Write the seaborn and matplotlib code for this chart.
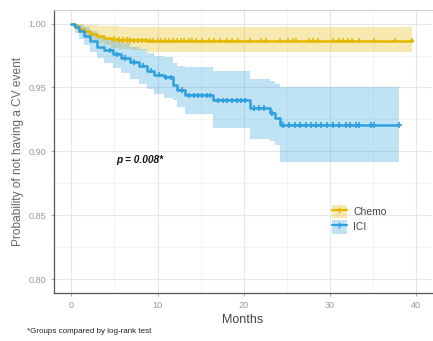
import matplotlib
matplotlib.use('Agg')
import matplotlib.pyplot as plt
import numpy as np
import pandas as pd
import seaborn as sns
from matplotlib.lines import Line2D
from matplotlib.patches import Patch

# Kaplan-Meier curves
chemo_time = [0, 0.3, 0.8, 1.5, 2.2, 3.0, 3.8, 4.6, 5.5, 7.0, 8.8, 39.5]
chemo_surv = [1.0, 0.998, 0.996, 0.994, 0.992, 0.990, 0.989, 0.988, 0.9872, 0.9869, 0.9867, 0.9867]
chemo_lower = [1.0, 0.996, 0.993, 0.990, 0.987, 0.985, 0.983, 0.981, 0.980, 0.979, 0.9776, 0.9776]
chemo_upper = [1.0, 1.0, 0.9995, 0.999, 0.9985, 0.998, 0.998, 0.9978, 0.9977, 0.9977, 0.9977, 0.9977]
chemo_censor = [5.0, 5.5, 6.0, 6.4, 6.8, 7.3, 7.7, 8.2, 8.6, 9.1, 9.5, 10.0, 10.4, 10.9,
                11.3, 11.8, 12.2, 12.7, 13.1, 13.6, 14.0, 14.5, 15.2, 16.0, 16.5, 17.3,
                18.0, 18.6, 19.3, 20.7, 22.0, 22.6, 24.2, 25.1, 25.7, 26.1, 27.6, 28.0,
                28.6, 30.3, 31.1, 31.5, 32.1, 32.6, 33.4, 35.1, 37.5, 39.5]

ici_time = [0, 0.4, 0.9, 1.5, 2.2, 3.0, 3.8, 4.8, 5.8, 6.8, 7.8, 8.8, 9.6, 10.8, 11.8,
            12.3, 13.2, 16.4, 20.7, 23.0, 23.6, 24.2, 38.0]
ici_surv = [1.0, 0.997, 0.994, 0.990, 0.986, 0.982, 0.979, 0.976, 0.973, 0.970, 0.967,
            0.963, 0.960, 0.958, 0.952, 0.948, 0.944, 0.940, 0.934, 0.930, 0.926, 0.9207, 0.9207]
ici_lower = [1.0, 0.993, 0.988, 0.983, 0.978, 0.973, 0.969, 0.965, 0.961, 0.957, 0.953,
             0.949, 0.945, 0.942, 0.940, 0.935, 0.929, 0.918, 0.910, 0.908, 0.905, 0.892, 0.892]
ici_upper = [1.0, 1.0, 0.999, 0.997, 0.994, 0.991, 0.989, 0.987, 0.985, 0.982, 0.980,
             0.977, 0.975, 0.974, 0.969, 0.967, 0.966, 0.963, 0.957, 0.955, 0.953, 0.950, 0.950]
ici_censor = [4.5, 5.3, 6.2, 7.3, 8.3, 9.2, 10.2, 11.0, 11.5, 12.8, 13.6, 14.2, 14.7, 15.2,
              15.7, 16.1, 17.0, 17.6, 18.1, 18.6, 19.2, 19.7, 20.2, 21.2, 21.8, 22.4, 23.3,
              24.5, 25.3, 25.9, 26.5, 27.2, 27.8, 28.4, 29.0, 29.6, 30.3, 31.1, 31.9, 32.3,
              33.0, 33.4, 34.8, 35.1, 38.0]

groups = ['Chemo', 'ICI']
colors = {'Chemo': '#E7B800', 'ICI': '#2E9FDF'}

curves = {
    'Chemo': (chemo_time, chemo_surv, chemo_lower, chemo_upper, chemo_censor),
    'ICI': (ici_time, ici_surv, ici_lower, ici_upper, ici_censor),
}

sns.set_theme(style='whitegrid')
plt.rcParams['font.family'] = ['Liberation Sans', 'DejaVu Sans']

fig = plt.figure(figsize=(4.33, 3.41), dpi=100)
ax = fig.add_axes([0.125, 0.141, 0.872, 0.830])

line_df, cens_df = [], []
for g in groups:
    t, s, lo, hi, cens = curves[g]
    line_df.append(pd.DataFrame({'time': t, 'surv': s, 'group': g}))
    # censor marks sit on the step function
    idx = np.searchsorted(t, cens, side='right') - 1
    cens_df.append(pd.DataFrame({'time': cens, 'surv': np.array(s)[idx], 'group': g}))
    ax.fill_between(t, lo, hi, step='post', color=colors[g], alpha=0.3, linewidth=0)
line_df = pd.concat(line_df)
cens_df = pd.concat(cens_df)

sns.lineplot(data=line_df, x='time', y='surv', hue='group', palette=colors,
             drawstyle='steps-post', linewidth=1.8, legend=False, ax=ax, estimator=None)
sns.scatterplot(data=cens_df, x='time', y='surv', hue='group', palette=colors,
                marker='+', s=14, linewidth=1.2, legend=False, ax=ax)

ax.set_xlim(-2, 41.8)
ax.set_ylim(0.7893, 1.0107)
ax.set_xticks([0, 10, 20, 30, 40])
ax.set_yticks([0.80, 0.85, 0.90, 0.95, 1.00])
ax.set_xticks([5, 15, 25, 35], minor=True)
ax.set_yticks([0.825, 0.875, 0.925, 0.975], minor=True)
ax.set_yticklabels(['0.80', '0.85', '0.90', '0.95', '1.00'])
ax.grid(which='major', color='#e6e6e6', linewidth=0.8)
ax.grid(which='minor', color='#f3f3f3', linewidth=0.6)
ax.tick_params(axis='both', which='major', labelsize=6.6, colors='#9a9a9a',
               length=2.5, width=0.6, direction='out', left=True, bottom=True, pad=3)
ax.tick_params(which='minor', length=0)
for side in ['left', 'bottom']:
    ax.spines[side].set_color('#555555')
    ax.spines[side].set_linewidth(0.9)
ax.spines['top'].set_color('#cccccc')
ax.spines['top'].set_linewidth(0.8)
ax.spines['right'].set_visible(False)

ax.set_xlabel('Months', fontsize=9, color='#444444', labelpad=3)
ax.set_ylabel('Probability of not having a CV event', fontsize=8.6, color='#666666', labelpad=3)

ax.text(7.9, 0.8933, 'p = 0.008*', fontsize=7.3, fontweight='bold', fontstyle='italic',
        ha='center', va='center', color='#111111')

handles = [(Patch(facecolor=colors[g], alpha=0.3, linewidth=0),
            Line2D([], [], color=colors[g], marker='+', markersize=5, linewidth=1.6))
           for g in groups]
ax.legend(handles, groups, loc='upper left', bbox_to_anchor=(0.71, 0.345), frameon=False,
          fontsize=7.5, handlelength=1.5, handleheight=1.6, labelspacing=0.2,
          handletextpad=0.6, labelcolor='#444444')

fig.text(0.062, 0.022, '*Groups compared by log-rank test', fontsize=5.8, color='#222222')

fig.savefig('out.png', dpi=100)
